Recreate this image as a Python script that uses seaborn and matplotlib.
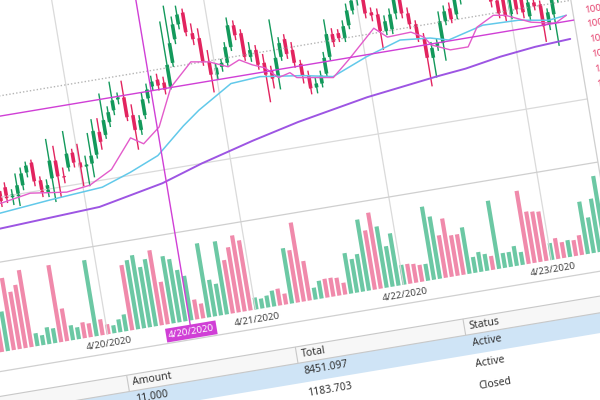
import numpy as np
import pandas as pd
import matplotlib
matplotlib.use("Agg")
import matplotlib.pyplot as plt
from matplotlib.transforms import Affine2D
import seaborn as sns


# ================= DATA =================
# one candle per slot, prices
opens = [999.90, 1000.00, 999.88, 1000.05, 999.98, 1000.06, 1000.09, 999.98, 999.98, 1000.08,
         1000.20, 1000.29, 1000.10, 999.97, 1000.10, 1000.27, 1000.10, 1000.18, 1000.32, 1000.21,
         1000.16, 1000.18, 1000.26, 1000.48, 1000.44, 1000.56, 1000.67, 1000.77, 1000.78, 1000.59,
         1000.43, 1000.57, 1000.73, 1000.84, 1000.90, 1000.86, 1000.81, 1001.04, 1001.27, 1001.41,
         1001.52, 1001.30, 1001.24, 1000.99, 1000.85, 1000.92, 1000.95, 1001.10, 1001.31, 1001.22,
         1000.97, 1001.03, 1000.89, 1000.80, 1000.73, 1000.92, 1001.09, 1000.97, 1000.82, 1000.69,
         1000.56, 1000.59, 1000.68, 1000.84, 1001.06, 1001.06, 1001.00, 1001.12, 1001.26, 1001.36,
         1001.45, 1001.21, 1001.18, 1001.00, 1001.01, 1001.16, 1001.32, 1001.14, 1001.02, 1000.87,
         1000.66, 1000.77, 1000.79, 1001.00, 1001.12, 1001.05, 1001.20, 1001.33, 1001.38, 1001.44,
         1001.48, 1001.30, 1001.12, 1001.18, 1000.96, 1001.16, 1001.10, 1000.91, 1001.04, 1001.01,
         1000.80, 1000.89, 1001.05, 1001.15]
closes = [999.98, 999.88, 999.97, 999.93, 999.86, 999.96, 999.98, 1000.01, 1000.09, 1000.20,
          1000.27, 1000.10, 999.98, 1000.04, 1000.28, 1000.11, 1000.09, 1000.32, 1000.22, 1000.16,
          1000.18, 1000.26, 1000.50, 1000.38, 1000.59, 1000.66, 1000.77, 1000.79, 1000.58, 1000.44,
          1000.53, 1000.73, 1000.82, 1000.89, 1000.84, 1000.79, 1001.03, 1001.24, 1001.42, 1001.51,
          1001.32, 1001.24, 1001.00, 1000.86, 1000.92, 1000.96, 1001.11, 1001.32, 1001.21, 1000.98,
          1001.04, 1000.88, 1000.77, 1000.72, 1000.92, 1001.06, 1000.94, 1000.84, 1000.70, 1000.56,
          1000.60, 1000.67, 1000.84, 1001.07, 1000.98, 1001.01, 1001.12, 1001.27, 1001.36, 1001.48,
          1001.21, 1001.18, 1001.01, 1001.10, 1001.16, 1001.33, 1001.15, 1001.03, 1000.88, 1000.67,
          1000.76, 1000.80, 1001.01, 1001.10, 1001.01, 1001.22, 1001.34, 1001.40, 1001.46, 1001.49,
          1001.30, 1001.12, 1000.99, 1000.95, 1001.18, 1001.00, 1000.96, 1001.05, 1001.00, 1000.79,
          1000.92, 1001.06, 1001.16, 1001.24]
highs = [1000.05, 1000.06, 1000.03, 1000.12, 1000.03, 1000.12, 1000.14, 1000.06, 1000.21, 1000.26,
         1000.31, 1000.32, 1000.14, 1000.10, 1000.50, 1000.42, 1000.19, 1000.55, 1000.36, 1000.40,
         1000.27, 1000.49, 1000.62, 1000.62, 1000.86, 1000.72, 1000.96, 1000.84, 1000.95, 1000.70,
         1000.58, 1000.80, 1000.88, 1000.95, 1000.96, 1000.92, 1001.47, 1001.62, 1001.50, 1001.60,
         1001.56, 1001.40, 1001.34, 1001.11, 1000.96, 1001.00, 1001.16, 1001.40, 1001.36, 1001.26,
         1001.12, 1001.08, 1000.98, 1000.85, 1001.31, 1001.12, 1001.14, 1001.05, 1000.86, 1000.74,
         1000.66, 1000.72, 1000.90, 1001.22, 1001.12, 1001.10, 1001.18, 1001.34, 1001.44, 1001.58,
         1001.52, 1001.26, 1001.24, 1001.16, 1001.22, 1001.40, 1001.38, 1001.20, 1001.06, 1000.92,
         1000.82, 1000.84, 1001.11, 1001.16, 1001.18, 1001.30, 1001.42, 1001.48, 1001.55, 1001.56,
         1001.52, 1001.36, 1001.18, 1001.25, 1001.30, 1001.22, 1001.18, 1001.12, 1001.08, 1001.05,
         1000.96, 1001.15, 1001.22, 1001.30]
lows = [999.84, 999.83, 999.82, 999.88, 999.80, 999.90, 999.93, 999.90, 999.88, 1000.03,
        1000.15, 1000.05, 999.93, 999.92, 999.86, 999.90, 1000.03, 1000.14, 1000.17, 999.97,
        999.96, 1000.04, 1000.22, 1000.30, 1000.40, 1000.51, 1000.62, 1000.72, 1000.54, 1000.24,
        1000.38, 1000.53, 1000.68, 1000.80, 1000.79, 1000.74, 1000.78, 1001.00, 1001.22, 1001.36,
        1001.28, 1001.18, 1000.96, 1000.68, 1000.80, 1000.87, 1000.92, 1001.06, 1001.16, 1000.94,
        1000.92, 1000.83, 1000.49, 1000.62, 1000.60, 1000.88, 1000.89, 1000.79, 1000.62, 1000.50,
        1000.50, 1000.55, 1000.64, 1000.80, 1000.93, 1000.97, 1000.96, 1001.08, 1001.22, 1001.30,
        1001.16, 1001.12, 1000.82, 1000.96, 1000.96, 1001.10, 1001.10, 1000.98, 1000.84, 1000.38,
        1000.46, 1000.72, 1000.61, 1000.96, 1000.97, 1001.00, 1001.14, 1001.26, 1001.32, 1001.38,
        1001.25, 1001.06, 1000.94, 1000.90, 1000.91, 1000.95, 1000.90, 1000.86, 1000.96, 1000.63,
        1000.74, 1000.57, 1001.00, 1001.10]
volumes = [500, 650, 400, 730, 580, 640, 780, 130, 100, 170,
           150, 780, 330, 150, 120, 160, 140, 770, 160, 100,
           80, 130, 170, 660, 700, 740, 610, 680, 760, 430,
           680, 640, 520, 450, 200, 150, 750, 370, 320, 740,
           540, 660, 770, 710, 120, 100, 120, 160, 170, 110,
           560, 530, 800, 400, 120, 180, 190, 190, 180, 120,
           410, 340, 380, 720, 600, 770, 620, 410, 530, 200,
           200, 190, 170, 170, 740, 630, 430, 590, 410, 410,
           470, 160, 200, 170, 140, 690, 150, 150, 200, 130,
           740, 520, 510, 500, 170, 210, 160, 170, 160, 200,
           530, 360, 540, 760]

# moving averages, read at a few slots each
fast_x = [0, 5, 10, 16, 20, 24, 28, 29, 30, 33, 36, 40, 43, 46, 48, 50, 52, 54, 56, 57,
          63, 66, 71, 73, 77, 79, 80, 83, 86, 88, 91, 93, 97, 101, 103]
fast_y = [999.92, 999.94, 999.99, 999.94, 999.97, 1000.09, 1000.37, 1000.33, 1000.29, 1000.43,
          1000.80, 1001.02, 1000.99, 1000.91, 1000.96, 1000.89, 1000.84, 1000.72, 1000.75, 1000.69,
          1000.63, 1000.78, 1001.05, 1000.94, 1000.95, 1000.88, 1000.79, 1000.71, 1000.71, 1000.89,
          1000.98, 1000.96, 1000.85, 1000.80, 1000.86]
mid_x = [0, 4, 13, 22, 27, 32, 37, 40, 46, 51, 58, 63, 69, 75, 80, 83, 89, 95, 100, 103]
mid_y = [999.83, 999.84, 999.89, 999.93, 1000.03, 1000.15, 1000.40, 1000.53, 1000.74, 1000.76,
         1000.70, 1000.64, 1000.78, 1000.89, 1000.86, 1000.81, 1000.90, 1000.89, 1000.84, 1000.86]
slow_x = [0, 4, 21, 32, 39, 48, 56, 68, 80, 85, 91, 97, 103]
slow_y = [999.64, 999.69, 999.74, 999.87, 1000.00, 1000.14, 1000.25, 1000.38, 1000.47,
          1000.50, 1000.56, 1000.60, 1000.62]

day_ticks = [18.83, 43.83, 68.83, 93.83]
day_labels = ["4/20/2020", "4/21/2020", "4/22/2020", "4/23/2020"]
cross_idx = 32.67
cross_label = "4/20/2020"
cross_price = 1000.80
last_price = 1001.00
grid_price = 1000.00
price_labels = [1000.88, 1000.73, 1000.58, 1000.43, 1000.28, 1000.13]

table_cols = ["Amount", "Total", "Status"]
table_rows = [["11.000", "8451.097", "Active"],
              ["", "1183.703", "Active"],
              ["", "", "Closed"]]

# ================= LAYOUT (screen pixels of the tilted app) =================
TILT = 9.5
S0, STEP = 4, 6            # first slot, slot width
PX_PER_PRICE, PRICE_BASE = 100, 998.0
VOL_BASE_T, PX_PER_VOL = 47, 0.1
PANE_T = 136               # price / volume separator
AXIS_T, LABEL_T = 28, 37
RIGHT_S = 629
COL_S = [129, 300, 470]
HEADER_T, HEADER_TOP, HEADER_BOTTOM = -5, 3.5, -13
ROW_T = [-22, -44, -66]
BAND = (-33, -13)

UP, DOWN = "#13995b", "#e2245f"
VOL_UP, VOL_DOWN = "#6cc8a4", "#f08aab"
FAST, MID, SLOW = "#e35bcb", "#62c9ea", "#9d55e3"
CROSS = "#d03fd6"
GRID = "#dadada"

sns.set_theme(style="white")
plt.rcParams["font.family"] = ["Noto Sans", "DejaVu Sans"]

fig = plt.figure(figsize=(6, 4), dpi=100)
ax = fig.add_axes([0, 0, 1, 1])
ax.axis("off")
ax.set_xlim(0, 600)
ax.set_ylim(0, 400)

screen = Affine2D().rotate_deg(TILT) + ax.transData
price_tr = Affine2D().scale(STEP, PX_PER_PRICE).translate(S0, -PRICE_BASE * PX_PER_PRICE) + screen
vol_tr = Affine2D().scale(STEP, PX_PER_VOL).translate(S0, VOL_BASE_T) + screen
idx_tr = Affine2D().scale(STEP, 1).translate(S0, 0) + screen
lab_tr = Affine2D().scale(1, PX_PER_PRICE).translate(0, -PRICE_BASE * PX_PER_PRICE) + screen

idx = np.arange(len(opens))
o, c, h, l = map(np.array, (opens, closes, highs, lows))
up = c >= o
last_slot = (RIGHT_S - S0) / STEP

# ================= GRID / FRAME =================
ax.vlines(day_ticks, VOL_BASE_T, 420, colors=GRID, linewidth=0.9, transform=idx_tr)
ax.hlines(grid_price, -12, last_slot, colors=GRID, linewidth=0.9, transform=price_tr)
ax.hlines(PANE_T, -80, RIGHT_S, colors="#cfcfcf", linewidth=0.9, transform=screen)
ax.vlines(RIGHT_S, AXIS_T, 420, colors="#cfcfcf", linewidth=0.9, transform=screen)
ax.hlines(last_price, -12, last_slot, colors="#b5b5b5", linewidth=1.0,
          linestyles=(0, (1, 1.5)), transform=price_tr)

# ================= VOLUME =================
vol_df = pd.DataFrame({"idx": idx, "volume": volumes, "dir": np.where(up, "up", "down")})
sns.barplot(data=vol_df, x="idx", y="volume", hue="dir",
            palette={"up": VOL_UP, "down": VOL_DOWN}, native_scale=True, dodge=False,
            width=0.7, saturation=1, errorbar=None, legend=False, linewidth=0,
            ax=ax, transform=vol_tr)

# ================= CANDLES =================
cols = np.where(up, UP, DOWN)
ax.vlines(idx, l, h, colors=cols, linewidth=1.0, transform=price_tr)
body_low = np.minimum(o, c)
body_h = np.maximum(np.abs(c - o), 0.012)
ax.bar(idx, body_h, bottom=body_low, width=0.6, color=cols, linewidth=0, transform=price_tr)

# ================= MOVING AVERAGES =================
sns.lineplot(x=slow_x, y=slow_y, color=SLOW, linewidth=1.4, errorbar=None, ax=ax, transform=price_tr)
sns.lineplot(x=mid_x, y=mid_y, color=MID, linewidth=1.1, errorbar=None, ax=ax, transform=price_tr)
sns.lineplot(x=fast_x, y=fast_y, color=FAST, linewidth=1.0, errorbar=None, ax=ax, transform=price_tr)

# ================= CROSSHAIR =================
ax.hlines(cross_price, -12, last_slot, colors=CROSS, linewidth=1.0, transform=price_tr)
ax.vlines(cross_idx, LABEL_T + 5, 420, colors=CROSS, linewidth=1.0, transform=idx_tr)

# ================= AXIS LABELS =================
for pos, lab in zip(day_ticks, day_labels):
    ax.text(pos, LABEL_T, lab, transform=idx_tr, rotation=TILT, rotation_mode="anchor",
            ha="center", va="center", fontsize=7, color="#444444")
ax.text(cross_idx, LABEL_T - 1, cross_label, transform=idx_tr, rotation=TILT,
        rotation_mode="anchor", ha="center", va="center", fontsize=7, color="white",
        bbox=dict(boxstyle="square,pad=0.25", fc=CROSS, ec="none"))
for p in price_labels:
    ax.text(RIGHT_S + 12, p, f"{p:.2f}", transform=lab_tr, rotation=TILT, rotation_mode="anchor",
            ha="left", va="center", fontsize=7, color="#e5416d")

ax.hlines(AXIS_T, -200, 900, colors="#d0d0d0", linewidth=0.9, transform=screen)

# ================= TABLE =================
ax.fill_between([-200, 900], HEADER_BOTTOM, HEADER_TOP, color="#f7f7f7", linewidth=0, transform=screen)
ax.fill_between([-200, 900], BAND[0], BAND[1], color="#cfe4f6", linewidth=0, transform=screen)
ax.hlines([HEADER_TOP, HEADER_BOTTOM], -200, 900, colors="#c8c8c8", linewidth=0.8, transform=screen)
ax.vlines(COL_S, HEADER_BOTTOM, HEADER_TOP, colors="#c8c8c8", linewidth=0.8, transform=screen)

for s, name in zip(COL_S, table_cols):
    ax.text(s + 5, HEADER_T, name, transform=screen, rotation=TILT, rotation_mode="anchor",
            ha="left", va="center", fontsize=7.5, color="#333333")
for t, row in zip(ROW_T, table_rows):
    for s, val in zip(COL_S, row):
        ax.text(s + 5, t, val, transform=screen, rotation=TILT, rotation_mode="anchor",
                ha="left", va="center", fontsize=7.5, color="#333333")

ax.set_xlim(0, 600)
ax.set_ylim(0, 400)
fig.savefig("out.png", dpi=100)
